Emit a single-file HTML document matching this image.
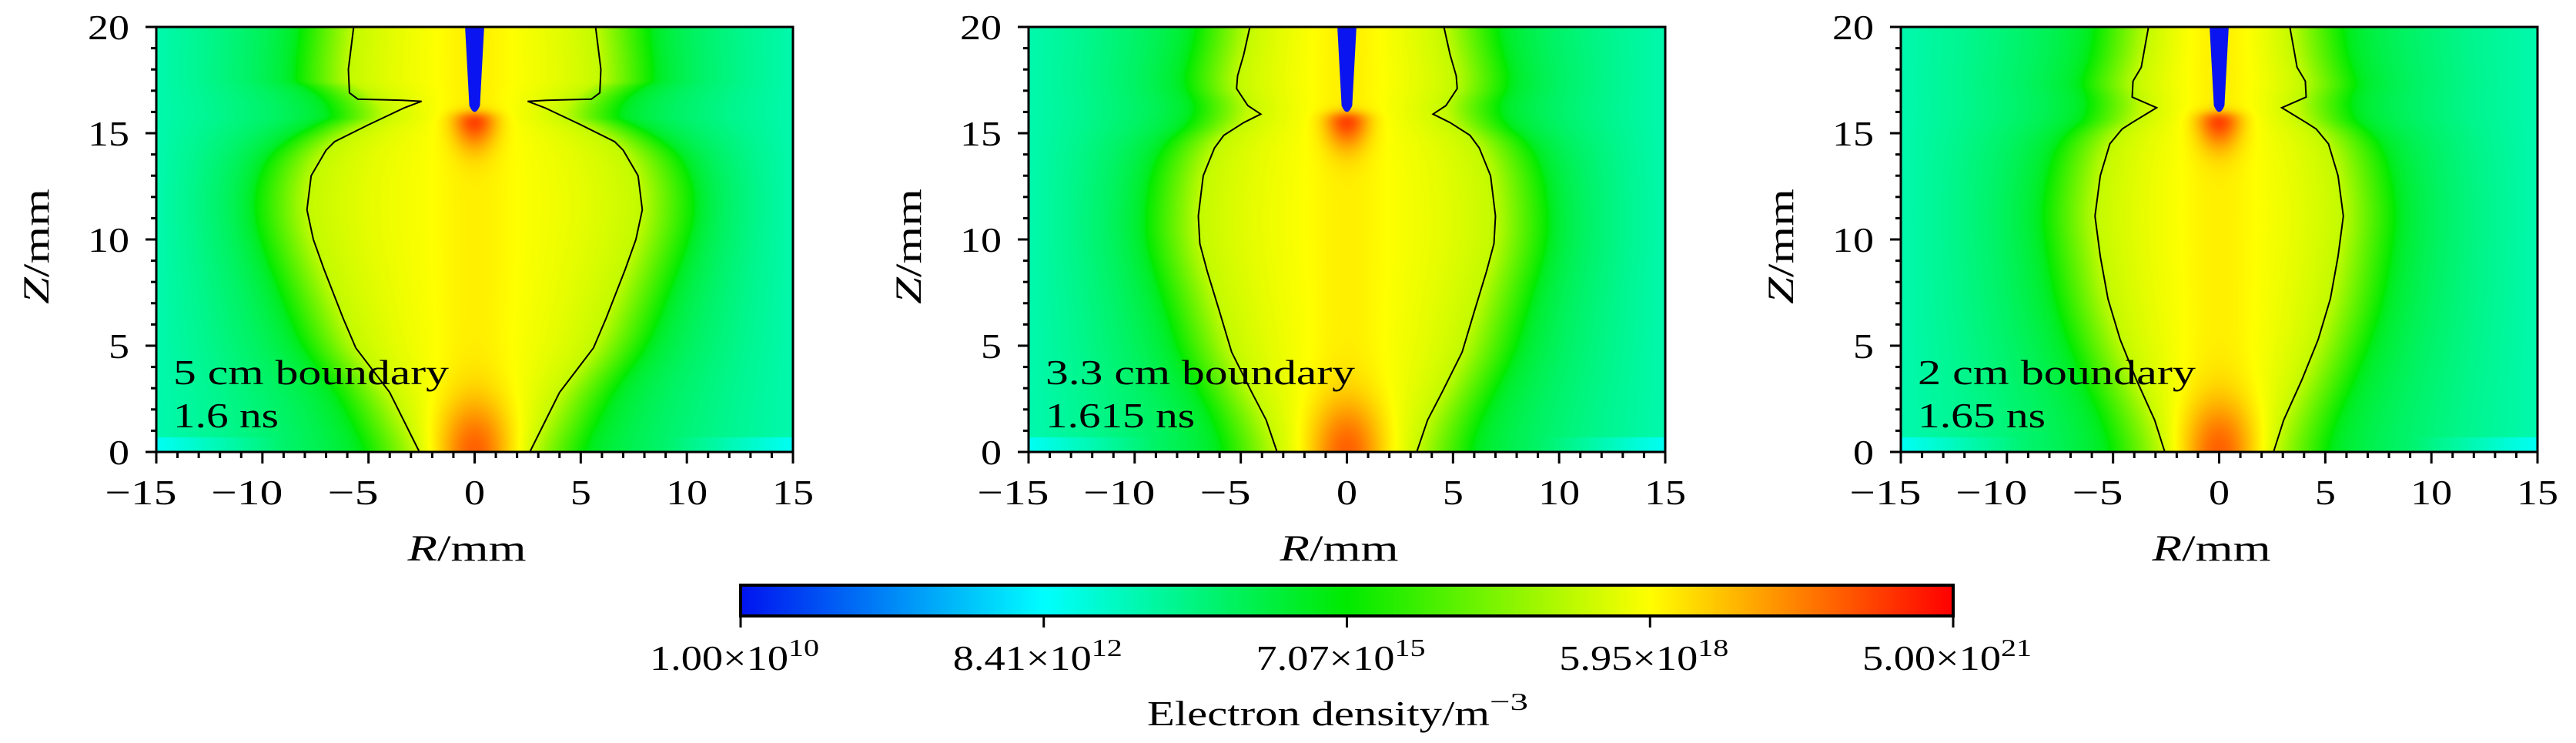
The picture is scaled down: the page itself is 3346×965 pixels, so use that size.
<!DOCTYPE html>
<html><head><meta charset="utf-8">
<style>
html,body{margin:0;padding:0;background:#fff;}
#wrap{position:relative;width:3346px;height:965px;overflow:hidden;background:#fff;}
canvas{position:absolute;}
svg{position:absolute;left:0;top:0;}
text{font-family:"Liberation Serif",serif;fill:#000;}
</style></head>
<body>
<div id="wrap">
<canvas id="c0" width="827" height="552" style="left:203px;top:35px"></canvas>
<canvas id="c1" width="827" height="552" style="left:1336px;top:35px"></canvas>
<canvas id="c2" width="827" height="552" style="left:2469px;top:35px"></canvas>
<canvas id="cb" width="1575" height="40" style="left:962px;top:760px"></canvas>
<svg id="s" width="3346" height="965"></svg>
</div>
<script>
// ---- data ----
const panelLefts = [203, 1336, 2469];
const panelTitles = ["5 cm boundary", "3.3 cm boundary", "2 cm boundary"];
const panelTimes = ["1.6 ns", "1.615 ns", "1.65 ns"];
const titleWidths = [358, 402, 361];
const timeWidths = [137, 194, 166];
// boundary contour (left half, mirrored), z in mm, |r| in mm
const boundaryZ1 = [0, 2.8, 4.9, 6.3, 8.6, 10, 11.4, 13, 14.2, 14.6, 15.4, 16.2, 16.5, 16.55, 16.6, 16.9, 18, 20];
const boundaryR1 = [2.6, 4.0, 5.6, 6.2, 7.1, 7.6, 7.9, 7.7, 7.0, 6.6, 5.0, 3.3, 2.5, 3.4, 5.5, 5.9, 5.95, 5.7];
const boundaryZ2 = [0, 1.5, 2.8, 4.7, 6.6, 8.5, 9.8, 11.1, 13, 14.3, 14.9, 15.5, 15.9, 16.3, 17.1, 17.7, 18.7, 20];
const boundaryR2 = [3.29, 3.8, 4.48, 5.43, 6.0, 6.58, 6.93, 7.0, 6.77, 6.24, 5.8, 4.86, 4.06, 4.67, 5.2, 5.15, 4.86, 4.57];
const boundaryZ3 = [0, 1.5, 3.4, 5.3, 7.2, 9.2, 11.1, 13, 14.5, 15.2, 15.5, 16.2, 16.7, 17.45, 18.1, 20];
const boundaryR3 = [2.56, 3.04, 3.9, 4.67, 5.24, 5.6, 5.85, 5.6, 5.15, 4.57, 4.1, 2.95, 4.1, 4.06, 3.67, 3.33];
const cbTickLabels = ["1.00", "8.41", "7.07", "5.95", "5.00"];
const cbTickExps = ["10", "12", "15", "18", "21"];
const xTicks = [-15, -10, -5, 0, 5, 10, 15];
const yTicks = [0, 5, 10, 15, 20];

const boundsZ = [boundaryZ1, boundaryZ2, boundaryZ3];
const boundsR = [boundaryR1, boundaryR2, boundaryR3];
const PW = 827, PH = 552, TOP = 35;
const xs = (r, i) => panelLefts[i] + (r + 15) / 30 * PW;
const ys = z => TOP + PH - z / 20 * PH;

function jet(v) {
  v = Math.max(0, Math.min(1, v));
  const stops = [[0, 0, 20, 240], [0.25, 0, 255, 255], [0.5, 0, 235, 0], [0.75, 255, 255, 0], [1, 255, 0, 0]];
  for (let k = 0; k < 4; k++) {
    const a = stops[k], b = stops[k + 1];
    if (v <= b[0]) { const t = (v - a[0]) / (b[0] - a[0]);
      return [a[1] + t * (b[1] - a[1]), a[2] + t * (b[2] - a[2]), a[3] + t * (b[3] - a[3])]; }
  }
  return [255, 0, 0];
}
function rawWidth(z, i) {
  const Z = boundsZ[i], R = boundsR[i];
  let best = 0;
  for (let k = 0; k < Z.length - 1; k++) {
    const z0 = Z[k], z1 = Z[k + 1];
    if (z >= Math.min(z0, z1) && z <= Math.max(z0, z1)) {
      const t = z1 === z0 ? 0 : (z - z0) / (z1 - z0);
      best = Math.max(best, R[k] + t * (R[k + 1] - R[k]));
    }
  }
  return best || R[R.length - 1];
}
function drawPanel(i) {
  const prof = [];
  for (let py = 0; py < PH; py++) {
    let s = 0, n = 0;
    for (let dz = -0.8; dz <= 0.8; dz += 0.1) {
      const z = Math.max(0, Math.min(20, 20 - (py + 0.5) / PH * 20 + dz)); s += rawWidth(z, i); n++;
    }
    prof.push(s / n);
  }
  const cv = document.getElementById('c' + i), ctx = cv.getContext('2d');
  const img = ctx.createImageData(PW, PH), d = img.data;
  for (let py = 0; py < PH; py++) {
    const z = 20 - (py + 0.5) / PH * 20;
    const B = prof[py];
    const below = 1 / (1 + Math.exp((z - 15.9) / 0.15));
    for (let px = 0; px < PW; px++) {
      const r = (px + 0.5) / PW * 30 - 15, ar = Math.abs(r);
      let v;
      if (ar < B) {
        v = 0.69 + 0.06 * (1 - (ar / B) * (ar / B)) + 0.015 * Math.exp(-r * r / 3);
      } else {
        const dd = ar - B;
        if (dd < 2.5) v = 0.69 - 0.19 * dd / 2.5;
        else v = 0.50 - 0.17 * Math.min(1, Math.sqrt((dd - 2.5) / Math.max(1, 15 - B - 2.5)));
      }
      v += 0.2 * below * Math.exp(-(r * r / 1.0 + (z - 16) * (z - 16) / 2.5));
      v += 0.14 * Math.exp(-(r * r / 3 + z * z / 6));
      if (z < 0.7 && ar > 9) v -= 0.07 * (ar - 9) / 6;
      const c = jet(v), o = (py * PW + px) * 4;
      d[o] = c[0]; d[o + 1] = c[1]; d[o + 2] = c[2]; d[o + 3] = 255;
    }
  }
  ctx.putImageData(img, 0, 0);
}
[0, 1, 2].forEach(drawPanel);
(function () {
  const cv = document.getElementById('cb'), ctx = cv.getContext('2d');
  for (let x = 0; x < cv.width; x++) { const c = jet(x / (cv.width - 1));
    ctx.fillStyle = `rgb(${c[0] | 0},${c[1] | 0},${c[2] | 0})`; ctx.fillRect(x, 0, 1, 40); }
})();

const NS = 'http://www.w3.org/2000/svg', svg = document.getElementById('s');
function el(tag, attrs, parent) {
  const e = document.createElementNS(NS, tag);
  for (const k in attrs) e.setAttribute(k, attrs[k]);
  (parent || svg).appendChild(e); return e;
}
for (let i = 0; i < 3; i++) {
  const g = el('g', {});
  
  
  const elec = el('path', { d: `M${xs(-0.45, i)},${ys(20)} L${xs(-0.25, i)},${ys(16.3)} Q${xs(0, i)},${ys(15.7)} ${xs(0.25, i)},${ys(16.3)} L${xs(0.45, i)},${ys(20)} Z`, fill: '#0a14f0' }, g);
  
  
  const Z = boundsZ[i], R = boundsR[i];
  for (const s of [-1, 1]) {
    const pts = Z.map((z, k) => xs(s * R[k], i).toFixed(1) + ',' + ys(z).toFixed(1)).join(' ');
    const pl = el('polyline', { points: pts, fill: 'none', stroke: '#000', 'stroke-width': 2 }, g);
    
    
  }
  const fr = el('rect', { x: panelLefts[i], y: TOP, width: PW, height: PH, fill: 'none', stroke: '#000', 'stroke-width': 3 }, g);
  
  
  for (let r = -15; r <= 15; r++) {
    const maj = r % 5 === 0;
    el('line', { x1: xs(r, i), x2: xs(r, i), y1: ys(0), y2: ys(0) + (maj ? 15 : 8), stroke: '#000', 'stroke-width': 3 }, g);
  }
  xTicks.forEach(t => {
    const s = String(Math.abs(t));
    const w = s.length * 27 + (t < 0 ? 39 : 0);
    const tx = el('text', { x: xs(t, i) - (t < 0 ? 20 : 0), y: 655, 'font-size': 46, 'text-anchor': 'middle', textLength: w, lengthAdjust: 'spacingAndGlyphs' }, g);
    tx.textContent = t < 0 ? '\u2212' + s : s;
    
    
  });
  for (let z = 0; z <= 20; z++) {
    const maj = z % 5 === 0;
    el('line', { x1: panelLefts[i], x2: panelLefts[i] - (maj ? 14 : 7), y1: ys(z), y2: ys(z), stroke: '#000', 'stroke-width': 3 }, g);
  }
  yTicks.forEach(t => {
    const s = String(t);
    const ty = el('text', { x: panelLefts[i] - 35, y: ys(t) + 16, 'font-size': 46, 'text-anchor': 'end', textLength: s.length * 27, lengthAdjust: 'spacingAndGlyphs' }, g);
    ty.textContent = s;
    
    
  });
  const xl = el('text', { x: panelLefts[i] + PW / 2 - 10, y: 728, 'font-size': 48, 'text-anchor': 'middle', textLength: 154, lengthAdjust: 'spacingAndGlyphs' }, g);
  xl.innerHTML = '<tspan font-style="italic">R</tspan>/mm';
  
  
  const cx = panelLefts[i] - 140, cy = 320;
  const yl = el('text', { x: cx, y: cy, 'font-size': 48, 'text-anchor': 'middle', textLength: 150, lengthAdjust: 'spacingAndGlyphs', transform: `rotate(-90 ${cx} ${cy})` }, g);
  yl.innerHTML = '<tspan font-style="italic">Z</tspan>/mm';
  
  
  const a1 = el('text', { x: panelLefts[i] + 22, y: 499, 'font-size': 46, textLength: titleWidths[i], lengthAdjust: 'spacingAndGlyphs' }, g);
  a1.textContent = panelTitles[i];
  
  
  const a2 = el('text', { x: panelLefts[i] + 22, y: 555, 'font-size': 46, textLength: timeWidths[i], lengthAdjust: 'spacingAndGlyphs' }, g);
  a2.textContent = panelTimes[i];
  
  
}
const cbg = el('g', {});


el('rect', { x: 962, y: 760, width: 1575, height: 40, fill: 'none', stroke: '#000', 'stroke-width': 4 }, cbg);
cbTickLabels.forEach((lab, k) => {
  const x = 962 + k * 1575 / 4;
  el('line', { x1: x, x2: x, y1: 800, y2: 815, stroke: '#000', 'stroke-width': 3 }, cbg);
  const t = el('text', { x: x - 118, y: 870, 'font-size': 46 }, cbg);
  t.innerHTML = '<tspan textLength="180" lengthAdjust="spacingAndGlyphs">' + lab + '\u00d710</tspan><tspan font-size="32" dy="-18" textLength="40" lengthAdjust="spacingAndGlyphs">' + cbTickExps[k] + '</tspan>';
  
  
});
const ct = el('text', { x: 1490, y: 942, 'font-size': 46 }, cbg);
ct.innerHTML = '<tspan textLength="445" lengthAdjust="spacingAndGlyphs">Electron density/m</tspan><tspan font-size="32" dy="-20" textLength="50" lengthAdjust="spacingAndGlyphs">\u22123</tspan>';


</script>
</body></html>
